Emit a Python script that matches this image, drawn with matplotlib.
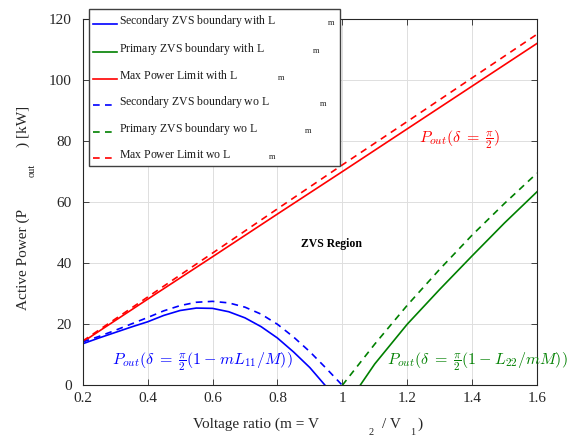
import numpy as np
import matplotlib
matplotlib.use("Agg")
import matplotlib.pyplot as plt
from matplotlib.font_manager import FontProperties
from matplotlib.legend_handler import HandlerLine2D

# ---------------- data ----------------
m_max = [0.2, 0.4, 0.6, 0.8, 1.0, 1.2, 1.4, 1.6]
p_max_with = [14.2, 28.2, 42.1, 56.1, 70.0, 84.0, 98.0, 112.0]
p_max_wo = [14.5, 28.9, 43.3, 57.8, 72.2, 86.4, 100.7, 115.0]

m_sec_with = [0.2, 0.25, 0.3, 0.35, 0.4, 0.45, 0.5, 0.55, 0.6, 0.65, 0.7, 0.75,
              0.8, 0.85, 0.9, 0.947]
p_sec_with = [13.6, 15.5, 17.3, 19.1, 20.8, 22.9, 24.5, 25.3, 25.2, 24.1, 22.1, 19.2,
              15.5, 10.9, 5.8, 0.0]
m_sec_wo = [0.2, 0.25, 0.3, 0.35, 0.4, 0.45, 0.5, 0.55, 0.6, 0.65, 0.7, 0.75,
            0.8, 0.85, 0.9, 0.95, 1.0]
p_sec_wo = [14.2, 16.0, 18.0, 20.1, 22.2, 24.4, 26.1, 27.2, 27.5, 27.0, 25.6, 23.3,
            20.0, 15.8, 11.0, 5.6, 0.0]

m_pri_with = [1.055, 1.1, 1.2, 1.3, 1.4, 1.5, 1.6]
p_pri_with = [0.0, 7.0, 20.0, 31.4, 42.4, 53.2, 63.4]
m_pri_wo = [1.0, 1.1, 1.2, 1.3, 1.4, 1.5, 1.6]
p_pri_wo = [0.0, 13.5, 26.2, 38.0, 49.2, 59.6, 69.5]

x_ticks = [0.2, 0.4, 0.6, 0.8, 1.0, 1.2, 1.4, 1.6]
x_tick_labels = ["0.2", "0.4", "0.6", "0.8", "1", "1.2", "1.4", "1.6"]
y_ticks = [0, 20, 40, 60, 80, 100, 120]
y_tick_labels = ["0", "20", "40", "60", "80", "100", "120"]

legend_texts = ["Secondary ZVS boundary with L", "Primary ZVS boundary with L",
                "Max Power Limit with L", "Secondary ZVS boundary wo L",
                "Primary ZVS boundary wo L", "Max Power Limit wo L"]
legend_gaps = [6.2, 5.8, 4.8, 6.0, 5.6, 4.5]

# ---------------- style ----------------
plt.rcParams["mathtext.fontset"] = "custom"
plt.rcParams["mathtext.rm"] = "Liberation Serif"
plt.rcParams["mathtext.it"] = "Liberation Serif:italic"
plt.rcParams["mathtext.bf"] = "Liberation Serif:bold"
plt.rcParams["font.family"] = ["Liberation Serif", "DejaVu Serif"]

W, H = 580, 436
fig = plt.figure(figsize=(W / 100, H / 100), dpi=100)

def px(x, y):
    return (x / W, 1 - y / H)

l, r, t, b = 82.7, 537.0, 19.0, 385.3
ax = fig.add_axes([l / W, 1 - b / H, (r - l) / W, (b - t) / H])

BLUE, GREEN, RED = "#0000ff", "#008000", "#ff0000"
LW = 1.2
DASH = (4.0, 3.2)

h1, = ax.plot(m_sec_with, p_sec_with, color=BLUE, lw=LW)
h2, = ax.plot(m_pri_with, p_pri_with, color=GREEN, lw=LW)
h3, = ax.plot(m_max, p_max_with, color=RED, lw=LW)
h4, = ax.plot(m_sec_wo, p_sec_wo, color=BLUE, lw=LW, ls=(0, DASH))
h5, = ax.plot(m_pri_wo, p_pri_wo, color=GREEN, lw=LW, ls=(0, DASH))
h6, = ax.plot(m_max, p_max_wo, color=RED, lw=LW, ls=(0, DASH))

ax.set_xlim(0.2, 1.6)
ax.set_ylim(0, 120)
ax.set_xticks(x_ticks)
ax.set_xticklabels(x_tick_labels)
ax.set_yticks(y_ticks)
ax.set_yticklabels(y_tick_labels)
ax.grid(True, color="#dedede", lw=0.7)
ax.set_axisbelow(True)
for s in ax.spines.values():
    s.set_color("#262626")
    s.set_linewidth(0.8)
ax.tick_params(direction="in", length=4, width=0.6, colors="#262626",
               labelsize=11, top=True, right=True)
ax.tick_params(axis="x", pad=4.5)
ax.tick_params(axis="y", pad=8)

# axis labels (MATLAB-style detached subscripts)
LC = "#262626"
fig.text(*px(193, 428), "Voltage ratio (m = V", fontsize=11, color=LC, ha="left", va="baseline")
fig.text(*px(369, 435), "2", fontsize=7.5, color=LC, ha="left", va="baseline")
fig.text(*px(381.7, 428), "/ V", fontsize=11, color=LC, ha="left", va="baseline")
fig.text(*px(410.5, 435), "1", fontsize=7.5, color=LC, ha="left", va="baseline")
fig.text(*px(417.5, 428), ")", fontsize=11, color=LC, ha="left", va="baseline")

fig.text(*px(26.7, 310), "Active Power (P", fontsize=11, color=LC, ha="left", va="baseline",
         rotation=90, rotation_mode="anchor")
fig.text(*px(34.5, 177), "out", fontsize=7.5, color=LC, ha="left", va="baseline",
         rotation=90, rotation_mode="anchor")
fig.text(*px(26.7, 147), ") [kW]", fontsize=11, color=LC, ha="left", va="baseline",
         rotation=90, rotation_mode="anchor")

# annotations
ax.text(0.967, 46.2, "ZVS Region", fontweight="bold", fontsize=8.5,
        ha="center", va="center", color="black")
ax.text(1.237, 80.6, r"$P_{out}(\delta\;=\;\frac{\pi}{2})$", color=RED, fontsize=11.5,
        ha="left", va="center", math_fontfamily="cm")
ax.text(0.289, 7.7, r"$P_{out}(\delta\;=\;\frac{\pi}{2}(1\:-\:mL_{11}/M))$", color=BLUE,
        fontsize=11.5, ha="left", va="center", math_fontfamily="cm")
ax.text(1.137, 7.7, r"$P_{out}(\delta\;=\;\frac{\pi}{2}(1\:-\:L_{22}/mM))$", color=GREEN,
        fontsize=11.5, ha="left", va="center", math_fontfamily="cm", clip_on=False)


class LowLineHandler(HandlerLine2D):
    """Legend handle drawn slightly below the label centre, as in the reference."""
    def create_artists(self, legend, orig_handle, xdescent, ydescent, width,
                       height, fontsize, trans):
        arts = super().create_artists(legend, orig_handle, xdescent, ydescent,
                                      width, height, fontsize, trans)
        for a in arts:
            a.set_ydata(np.asarray(a.get_ydata()) - 3.0)
        return arts


# legend
labels = [txt + r"$\hspace{%.1f}{}_{\mathrm{m}}$" % g for txt, g in zip(legend_texts, legend_gaps)]
prop = FontProperties(family="Liberation Serif", size=8.5, math_fontfamily="custom")
handles = [h1, h2, h3, h4, h5, h6]
leg = ax.legend(handles, labels, loc="upper left",
                bbox_to_anchor=px(89, 9.3), bbox_transform=fig.transFigure,
                borderaxespad=0, fancybox=False, framealpha=1, edgecolor="#404040",
                prop=prop, handlelength=2.0, handletextpad=0.15, labelspacing=0.95,
                borderpad=0.35, handler_map={h: LowLineHandler() for h in handles})
leg.get_frame().set_linewidth(1.0)
for txt in leg.get_texts():
    txt.set_color("#1a1a1a")

fig.savefig("out.png", dpi=100)
